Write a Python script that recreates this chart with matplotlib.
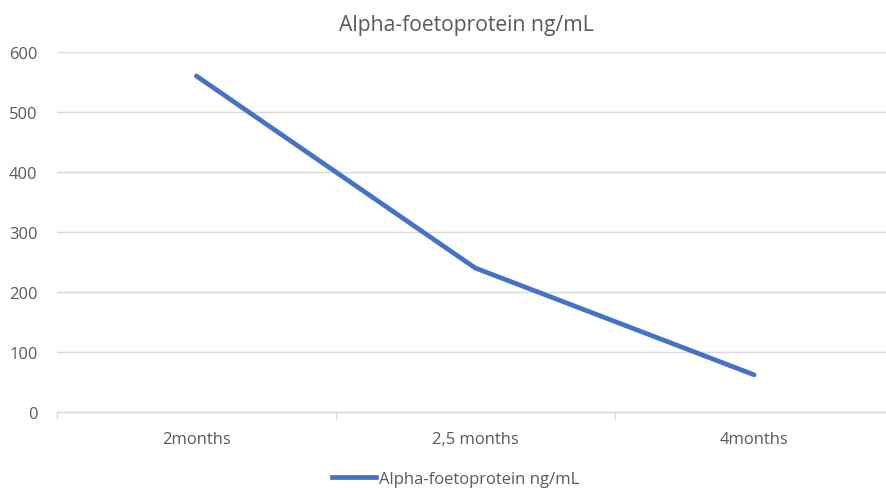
import matplotlib.pyplot as plt
from matplotlib.lines import Line2D

plt.rcParams['font.family'] = ['Open Sans', 'DejaVu Sans']

# donnees
mois = ['2months', '2,5 months', '4months']
afp = [560, 240, 62]
yticks = [0, 100, 200, 300, 400, 500, 600]

bleu = '#4472C4'
gris = '#595959'

fig = plt.figure(figsize=(8.86, 4.89), dpi=100)
ax = fig.add_axes([0.0643, 0.1554, 0.9442, 0.7362])

x = list(range(len(mois)))
ax.plot(x, afp, color=bleu, linewidth=3.4, solid_capstyle='round', solid_joinstyle='round')

ax.set_xlim(-0.5, len(mois) - 0.5)
ax.set_ylim(0, 600)
ax.set_yticks(yticks)
ax.set_yticklabels([str(v) for v in yticks], color=gris, fontsize=11.9)
ax.set_xticks(x)
ax.set_xticklabels(mois, color=gris, fontsize=11.9)
ax.tick_params(axis='y', length=0, pad=14)
ax.tick_params(axis='x', length=0, pad=14)

# petits traits entre categories
ax.set_xticks([i - 0.5 for i in range(len(mois) + 1)], minor=True)
ax.tick_params(axis='x', which='minor', length=5, color='#D9D9D9', width=1)

ax.grid(axis='y', color='#D9D9D9', linewidth=1)
ax.set_axisbelow(True)
for s in ['top', 'right', 'left']:
    ax.spines[s].set_visible(False)
ax.spines['bottom'].set_color('#D9D9D9')
ax.spines['bottom'].set_linewidth(1)

fig.text(466 / 886, 1 - 25 / 489, 'Alpha-foetoprotein ng/mL', ha='center', va='center',
         color=gris, fontsize=15.2)

h = Line2D([0], [0], color=bleu, linewidth=3.4)
fig.legend([h], ['Alpha-foetoprotein ng/mL'], loc='center',
           bbox_to_anchor=(456 / 886, 1 - 480 / 489), frameon=False,
           fontsize=12, labelcolor=gris, handlelength=2.6, handletextpad=0.2)

plt.savefig('out.png', dpi=100)
